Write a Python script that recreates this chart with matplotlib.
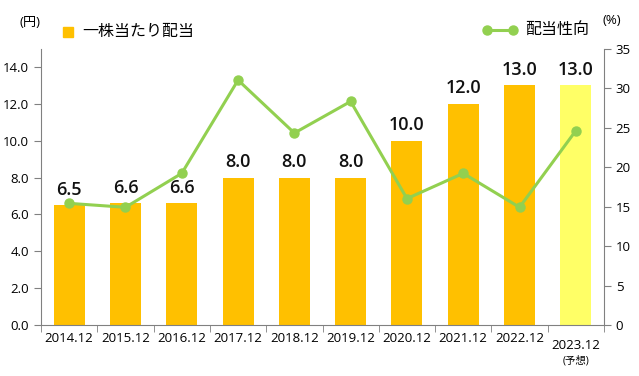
import matplotlib
matplotlib.use("Agg")
import matplotlib.pyplot as plt
import matplotlib.transforms as mtransforms

plt.rcParams['font.family'] = ['Open Sans', 'Noto Sans CJK JP', 'DejaVu Sans']

years = ["2014.12", "2015.12", "2016.12", "2017.12", "2018.12",
         "2019.12", "2020.12", "2021.12", "2022.12", "2023.12"]
dividend = [6.5, 6.6, 6.6, 8.0, 8.0, 8.0, 10.0, 12.0, 13.0, 13.0]
payout = [15.4, 14.9, 19.2, 31.0, 24.3, 28.3, 16.0, 19.2, 14.9, 24.6]
forecast_note = "(予想)"

bar_col = "#FFC000"
bar_forecast = "#FFFF66"
line_col = "#92D050"
axis_col = "#808080"

fig = plt.figure(figsize=(6.39, 3.76), dpi=100)
ax = fig.add_axes([0.0642, 0.1356, 0.8810, 0.7354])
ax2 = ax.twinx()

x = list(range(len(years)))
colors = [bar_col] * (len(years) - 1) + [bar_forecast]
bars = ax.bar(x, dividend, width=0.55, color=colors, zorder=2)
for xi, v in zip(x, dividend):
    ax.annotate(f"{v:.1f}", (xi, v), xytext=(0, 7.5), textcoords='offset points',
                ha='center', va='baseline', fontsize=13, fontweight='semibold',
                color='#111111')

ax2.plot(x, payout, color=line_col, linewidth=2.2, marker='o',
         markersize=6.5, zorder=3)

ax.set_xlim(-0.5, len(years) - 0.5)
ax.set_ylim(0, 15)
ax2.set_ylim(0, 35)
ax.set_yticks([0, 2, 4, 6, 8, 10, 12, 14])
ax.set_yticklabels([f"{v:.1f}" for v in [0, 2, 4, 6, 8, 10, 12, 14]])
ax2.set_yticks([0, 5, 10, 15, 20, 25, 30, 35])

ax.set_xticks(x)
ax.set_xticklabels(years[:-1] + [""])
ax.set_xticks([i - 0.5 for i in range(len(years) + 1)], minor=True)
ax.tick_params(axis='x', which='major', length=0, pad=5, labelsize=9.5)
ax.tick_params(axis='x', which='minor', length=5, color=axis_col)
ax.tick_params(axis='y', length=5, color=axis_col, labelsize=9.5)
ax2.tick_params(axis='y', length=5, color=axis_col, labelsize=9.5)

trans = mtransforms.blended_transform_factory(ax.transData, ax.transAxes)
ax.text(x[-1], -0.052, years[-1], transform=trans, ha='center', va='top',
        fontsize=9.5)
ax.text(x[-1], -0.11, forecast_note, transform=trans, ha='center',
        va='top', fontsize=7.5)

for a in (ax, ax2):
    a.spines['top'].set_visible(False)
    for s in ('left', 'right', 'bottom'):
        a.spines[s].set_color(axis_col)
ax.spines['right'].set_visible(False)
ax2.spines['left'].set_visible(False)
ax2.spines['bottom'].set_visible(False)

fig.text(0.047, 0.94, "(円)", fontsize=9.5, ha='center', va='center')
fig.text(0.958, 0.945, "(%)", fontsize=9.5, ha='center', va='center')

fig.lines.append(plt.Line2D([0.107], [0.914], marker='s', markersize=7,
                            color=bar_col, linestyle='none',
                            transform=fig.transFigure))
fig.text(0.128, 0.914, "一株当たり配当", fontsize=11.5, va='center')
fig.lines.append(plt.Line2D([0.762, 0.803], [0.921, 0.921], marker='o',
                            markersize=6.5, color=line_col, linewidth=2.2,
                            transform=fig.transFigure))
fig.text(0.822, 0.921, "配当性向", fontsize=11.5, va='center')

fig.savefig("out.png", dpi=100)
